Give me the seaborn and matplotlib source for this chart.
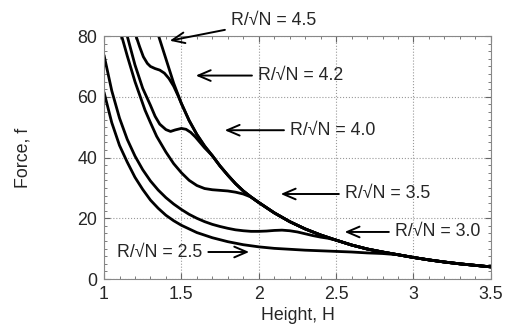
import numpy as np
import pandas as pd
import matplotlib
matplotlib.use('Agg')
import matplotlib.pyplot as plt
import seaborn as sns
from matplotlib.ticker import MultipleLocator

# 包络线 R/sqrt(N) = 4.5（其余曲线最后都并到这条线上）
h_45 = [1.353, 1.40, 1.45, 1.50, 1.55, 1.60, 1.65, 1.70, 1.75, 1.80, 1.85, 1.90, 1.95, 2.00,
        2.10, 2.20, 2.30, 2.40, 2.50, 2.60, 2.70, 2.80, 2.90, 3.00, 3.10, 3.20, 3.30, 3.40, 3.50]
f_45 = [80.0, 72.5, 64.5, 57.8, 52.2, 47.6, 43.8, 40.6, 37.2, 34.2, 31.4, 29.0, 27.0, 25.2,
        21.8, 18.9, 16.5, 14.5, 12.8, 11.2, 9.9, 8.9, 8.0, 7.1, 6.3, 5.6, 5.0, 4.5, 4.0]

# R/sqrt(N) = 4.2
h_42 = [1.207, 1.23, 1.254, 1.28, 1.30, 1.33, 1.36, 1.39, 1.42, 1.45, 1.48] + h_45[3:]
f_42 = [80.0, 76.5, 73.2, 71.0, 70.0, 69.3, 68.8, 67.8, 66.0, 63.5, 60.2] + f_45[3:]

# R/sqrt(N) = 4.0
h_40 = [1.15, 1.20, 1.25, 1.30, 1.33, 1.36, 1.40, 1.43, 1.46, 1.50, 1.53, 1.56, 1.59, 1.62, 1.65] + h_45[7:]
f_40 = [80.0, 70.5, 62.8, 57.2, 53.6, 51.0, 49.2, 48.6, 49.1, 49.6, 49.3, 48.3, 46.8, 45.0, 43.2] + f_45[7:]

# R/sqrt(N) = 3.5
h_35 = [1.114, 1.15, 1.20, 1.265, 1.30, 1.34, 1.40, 1.45, 1.50, 1.55, 1.60, 1.65, 1.70, 1.75,
        1.80, 1.85, 1.90] + h_45[12:]
f_35 = [80.0, 73.5, 65.0, 55.6, 51.5, 47.0, 41.8, 38.0, 35.0, 32.5, 30.8, 29.8, 29.4, 29.2,
        29.0, 28.6, 28.0] + f_45[12:]

# R/sqrt(N) = 3.0
h_30 = [1.00, 1.05, 1.10, 1.15, 1.20, 1.25, 1.30, 1.35, 1.40, 1.45, 1.50, 1.55, 1.60, 1.65,
        1.70, 1.75, 1.80, 1.85, 1.90, 1.95, 2.00, 2.05, 2.10, 2.15, 2.20, 2.25, 2.30, 2.35,
        2.40, 2.45] + h_45[18:]
f_30 = [73.7, 62.0, 53.0, 46.0, 40.5, 36.0, 32.3, 29.3, 26.8, 24.7, 22.9, 21.3, 20.0, 18.9,
        18.0, 17.3, 16.7, 16.2, 15.9, 15.7, 15.7, 15.8, 16.0, 16.1, 15.9, 15.5, 14.9, 14.3,
        13.8, 13.4] + f_45[18:]

# R/sqrt(N) = 2.5
h_25 = [1.00, 1.05, 1.10, 1.15, 1.20, 1.25, 1.30, 1.35, 1.40, 1.45, 1.50, 1.60, 1.70, 1.80,
        1.90, 2.00, 2.10, 2.20, 2.30, 2.40, 2.50, 2.60, 2.70, 2.80] + h_45[22:]
f_25 = [61.5, 51.5, 44.0, 38.5, 33.5, 29.5, 26.0, 23.3, 21.0, 19.2, 17.7, 15.3, 13.6, 12.3,
        11.3, 10.6, 10.1, 9.8, 9.5, 9.3, 9.1, 8.9, 8.6, 8.4] + f_45[22:]

labels = ['2.5', '3.0', '3.5', '4.0', '4.2', '4.5']
curves = [(h_25, f_25), (h_30, f_30), (h_35, f_35), (h_40, f_40), (h_42, f_42), (h_45, f_45)]

rows = []
for lab, (h, f) in zip(labels, curves):
    for i, (a, b) in enumerate(zip(h, f)):
        rows.append({'ratio': lab, 'order': i, 'H': a, 'f': b})
df = pd.DataFrame(rows)

sns.set_style('ticks')
plt.rcParams['font.family'] = ['Liberation Sans', 'DejaVu Sans']
fs = 12.8
plt.rcParams['font.size'] = fs

fig, ax = plt.subplots(figsize=(5.05, 3.31), dpi=100)
fig.subplots_adjust(left=0.206, right=0.972, bottom=0.157, top=0.891)

sns.lineplot(data=df, x='H', y='f', hue='ratio', units='ratio', estimator=None, sort=False,
             palette=['black'] * 6, linewidth=2.0, legend=False, ax=ax)

ax.set_xlim(1, 3.5)
ax.set_ylim(0, 80)
ax.set_xticks([1, 1.5, 2, 2.5, 3, 3.5])
ax.set_xticklabels(['1', '1.5', '2', '2.5', '3', '3.5'])
ax.set_yticks([0, 20, 40, 60, 80])
ax.xaxis.set_minor_locator(MultipleLocator(0.1))
ax.yaxis.set_minor_locator(MultipleLocator(2.5))
ax.tick_params(which='both', direction='in', top=True, right=True, color='#666666')
ax.tick_params(which='major', length=4, labelsize=fs, pad=5)
ax.tick_params(which='minor', length=2)
ax.grid(True, which='major', linestyle=':', color='#999999', linewidth=0.8)
for s in ax.spines.values():
    s.set_color('#888888')
    s.set_linewidth(0.8)

ax.set_xlabel('Height, H', fontsize=fs, labelpad=3)
ax.set_ylabel('Force, f', fontsize=fs, labelpad=33)

# 标注：文字左端位置和箭头指向的点
notes = [
    ('4.5', (1.407, 78.3), (1.820, 85.2)),
    ('4.2', (1.575, 67.0), (1.995, 67.0)),
    ('4.0', (1.762, 49.0), (2.202, 49.0)),
    ('3.5', (2.124, 28.0), (2.557, 28.0)),
    ('3.0', (2.537, 15.5), (2.880, 15.5)),
]
for lab, tip, txt in notes:
    ax.annotate('R/\u221aN = ' + lab, xy=tip, xytext=txt, ha='left', va='center',
                fontsize=fs, annotation_clip=False,
                arrowprops=dict(arrowstyle='->,head_length=0.7,head_width=0.3', lw=1.4, color='black'))
ax.annotate('R/\u221aN = 2.5', xy=(1.956, 8.9), xytext=(1.084, 8.9), ha='left', va='center',
            fontsize=fs,
            arrowprops=dict(arrowstyle='->,head_length=0.7,head_width=0.3', lw=1.4, color='black'))

plt.savefig('out.png', dpi=100)
